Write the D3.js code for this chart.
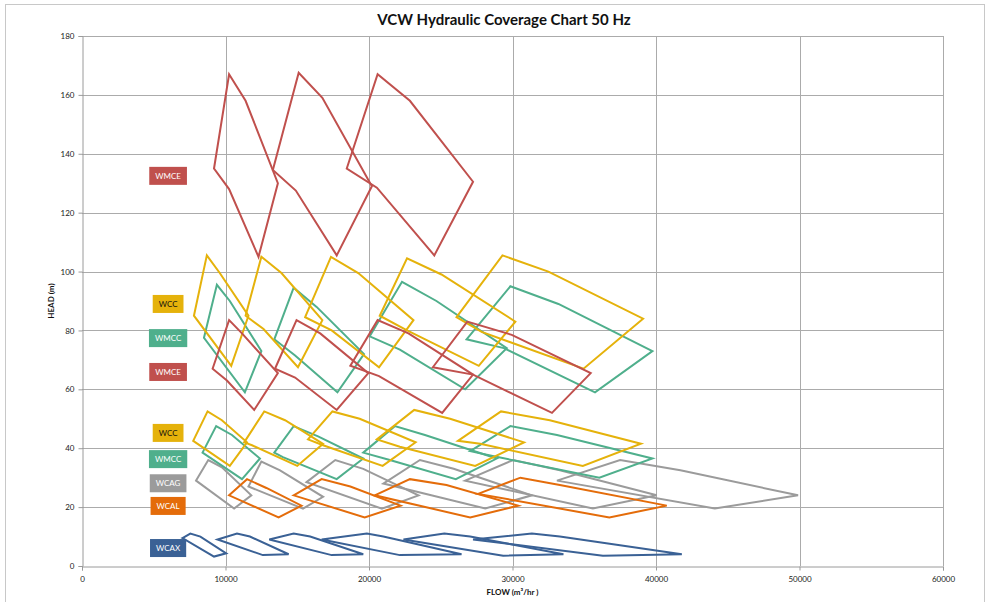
<!DOCTYPE html>
<html><head><meta charset="utf-8">
<script src="https://cdn.jsdelivr.net/npm/d3@7"></script>
<style>body{margin:0;background:#fff}svg{display:block}</style>
</head><body>
<svg id="chart" width="987" height="602"></svg>
<script>
// ---- data (flow m3/hr, head m) ----
const flowTicks = [0, 10000, 20000, 30000, 40000, 50000, 60000];
const headTicks = [0, 20, 40, 60, 80, 100, 120, 140, 160, 180];

const WMCE_HIGH = [
  [[9200,135],[10250,167],[11400,158],[13650,130],[12300,105],[10250,128]],
  [[13300,134.5],[15100,167.5],[16750,159],[20200,129],[17750,105.5],[14900,127.5]],
  [[18450,135],[20600,167],[22850,158],[27250,130.5],[24550,105.5],[20550,128.5]]
];
const WCC_HIGH = [
  [[7800,85],[8700,105.5],[9600,99.5],[11600,85],[10400,68]],
  [[11400,85],[12500,105],[13900,99.5],[16750,83.5],[15050,67.5],[12650,80.5]],
  [[15550,84.5],[17350,105],[19250,99.5],[23100,83.5],[20700,67.5],[17400,80]],
  [[20750,85],[22650,104.5],[25050,99],[30200,83],[27650,68],[22650,80]],
  [[26100,84.5],[29300,105.5],[32500,100],[39100,84],[34950,67],[27850,79.5]]
];
const WMCC_HIGH = [
  [[8500,77.5],[9400,95.5],[10300,90],[12500,73],[11350,59]],
  [[13400,77],[14750,94.5],[16350,88],[19650,72],[17800,59],[14850,71.5]],
  [[20050,78],[22300,96.5],[24700,90],[29600,74],[26700,60],[22150,73.5]],
  [[26800,77],[29850,95],[33200,89],[39750,73],[35750,59],[29400,74]]
];
const WMCE_LOW = [
  [[9100,67],[10250,83.5],[11150,79],[13650,65.5],[12000,53],[10100,63]],
  [[13450,67],[14950,83.5],[16600,79],[19950,65.5],[17750,53],[14850,64]],
  [[18700,68],[20600,83.5],[22750,79],[27250,65],[25100,52],[20700,64.5]],
  [[24450,67.5],[26850,83],[29950,78.5],[35450,65.5],[32750,52],[27250,65]]
];
const WCC_LOW = [
  [[7750,42.5],[8750,52.5],[9750,49.5],[11500,42],[10300,34]],
  [[11300,42],[12700,52.5],[14150,49.5],[16800,41.5],[15000,34],[11850,41]],
  [[15750,43],[17450,52.5],[19350,50],[23250,42],[20950,34],[16800,41]],
  [[20550,43],[23150,53],[25650,50],[30800,42],[27400,34],[22150,40.5]],
  [[26200,42.5],[29200,52.5],[32600,49.5],[38950,41.5],[34900,34],[27750,41.5]]
];
const WMCC_LOW = [
  [[8400,38.5],[9350,47.5],[10450,44.5],[12400,36.5],[11150,29.5]],
  [[13400,38.5],[14750,47.5],[16450,44],[19600,36.5],[17750,29.5],[14000,37]],
  [[19600,38.5],[21800,47.5],[23900,44.5],[28900,36.5],[26050,29.5],[21450,36]],
  [[27050,39],[29850,47.5],[33100,44.5],[39750,36.5],[36050,30],[28450,37.5]]
];
const WCAG = [
  [[7950,29],[8800,36],[9750,33.5],[11800,24],[10600,19.5]],
  [[11600,27],[12500,35.5],[13800,32.5],[16800,23.5],[15400,19.5]],
  [[15650,28.5],[17650,36],[19600,33],[23450,24],[20900,19.5]],
  [[21000,28],[23550,36],[25900,33],[31350,24],[28100,19.5]],
  [[26700,29],[30050,36],[33300,32.5],[40050,24],[35600,19.5]],
  [[33100,29],[37500,36],[41700,32.5],[49900,24],[44100,19.5]]
];
const WCAL = [
  [[10250,24],[11500,29.5],[12850,26.5],[15300,20.5],[13700,16.5]],
  [[14750,24],[16700,29.5],[18700,27],[22200,20.5],[19700,16.5]],
  [[20400,24],[22850,29.5],[25400,27.5],[30400,20.5],[27050,16.5]],
  [[27600,24.5],[30550,30],[33300,27.5],[40750,20.5],[36750,16.5]]
];
const WCAX = [
  [[7000,9.5],[7550,11],[8250,10],[10050,4.3],[9200,3.2]],
  [[9450,9],[10800,11],[11700,10],[14400,4],[12600,3.7]],
  [[13050,9],[14750,11],[15900,10],[19600,4],[17400,3.7]],
  [[16700,9],[19850,11],[21000,10],[26450,4],[22150,3.7]],
  [[22400,9],[25250,11],[27050,10],[33550,4],[29350,3.5]],
  [[27250,9],[31350,11],[33300,10],[41800,4],[36300,3.5]]
];

const labelNames = ['WMCE','WCC','WMCC','WMCE','WCC','WMCC','WCAG','WCAL','WCAX'];
const labelHeads = [132.5, 89, 77.4, 65.9, 45.2, 36.3, 28.1, 20.4, 6.1];
const labelFlow = 6000;

const colors = {
  WMCE: '#C0504D', WCC: '#E5B20B', WMCC: '#4FAF8C',
  WCAG: '#9B9B9B', WCAL: '#E46C0A', WCAX: '#3A6195'
};
const textColors = { WMCE:'#fff', WCC:'#111', WMCC:'#fff', WCAG:'#fff', WCAL:'#fff', WCAX:'#fff' };

const series = [
  {name:'WCAX', polys: WCAX},
  {name:'WCAG', polys: WCAG},
  {name:'WCAL', polys: WCAL},
  {name:'WMCC', polys: WMCC_LOW},
  {name:'WCC',  polys: WCC_LOW},
  {name:'WMCC', polys: WMCC_HIGH},
  {name:'WCC',  polys: WCC_HIGH},
  {name:'WMCE', polys: WMCE_LOW},
  {name:'WMCE', polys: WMCE_HIGH}
];

// ---- layout ----
const svg = d3.select('#chart');
const L = 82, R = 943, T = 36, B = 566;
const x = d3.scaleLinear().domain([0, 60000]).range([L, R]);
const y = d3.scaleLinear().domain([0, 180]).range([B, T]);
const font = 'Lato, "Open Sans", sans-serif';

svg.append('rect').attr('x', 5.5).attr('y', 4.5).attr('width', 979).attr('height', 620)
  .attr('fill', 'none').attr('stroke', '#C8C8C8').attr('stroke-width', 1);

// gridlines
svg.append('g').selectAll('line').data(headTicks.filter(d => d > 0)).join('line')
  .attr('x1', L).attr('x2', R).attr('y1', d => Math.round(y(d)) + 0.5).attr('y2', d => Math.round(y(d)) + 0.5)
  .attr('stroke', '#ABABAB').attr('stroke-width', 1);
svg.append('g').selectAll('line').data(flowTicks.filter(d => d > 0)).join('line')
  .attr('y1', T).attr('y2', B).attr('x1', d => Math.round(x(d)) + 0.5).attr('x2', d => Math.round(x(d)) + 0.5)
  .attr('stroke', '#ABABAB').attr('stroke-width', 1);

// axes
const xAxis = svg.append('g').attr('transform', `translate(0,${B + 0.5})`)
  .call(d3.axisBottom(x).tickValues(flowTicks).tickFormat(d3.format('d')).tickSize(4).tickPadding(6));
const yAxis = svg.append('g').attr('transform', `translate(${L + 0.5},0)`)
  .call(d3.axisLeft(y).tickValues(headTicks).tickSize(4).tickPadding(4));
[xAxis, yAxis].forEach(a => {
  a.select('.domain').attr('stroke', '#9A9A9A');
  a.selectAll('.tick line').attr('stroke', '#9A9A9A');
  a.selectAll('.tick text').attr('font-family', font).attr('font-size', 8).attr('fill', '#222');
});

// polygons
const line = d3.line().x(d => x(d[0])).y(d => y(d[1])).curve(d3.curveLinearClosed);
series.forEach(s => {
  svg.append('g').selectAll('path').data(s.polys).join('path')
    .attr('d', line).attr('fill', 'none')
    .attr('stroke', colors[s.name]).attr('stroke-width', 2).attr('stroke-linejoin', 'miter');
});

// labels
const lg = svg.append('g');
labelNames.forEach((n, i) => {
  const cx = x(labelFlow), cy = y(labelHeads[i]);
  const t = lg.append('text').attr('x', cx).attr('y', cy).attr('dy', '0.35em')
    .attr('text-anchor', 'middle').attr('font-family', font).attr('font-size', 8)
    .attr('fill', textColors[n]).text(n);
  const w = t.node().getComputedTextLength() + 12;
  lg.insert('rect', 'text').attr('x', cx - w / 2).attr('y', cy - 9).attr('width', w).attr('height', 18)
    .attr('fill', colors[n]);
});

// titles
svg.append('text').attr('x', 504).attr('y', 25).attr('text-anchor', 'middle')
  .attr('font-family', font).attr('font-weight', 'bold').attr('font-size', 15).attr('fill', '#111')
  .text('VCW Hydraulic Coverage Chart 50 Hz');
svg.append('text').attr('x', (L + R) / 2).attr('y', 595).attr('text-anchor', 'middle')
  .attr('font-family', font).attr('font-weight', 'bold').attr('font-size', 8).attr('fill', '#111')
  .text('FLOW (m³/hr )');
svg.append('text').attr('transform', `translate(54,${(T + B) / 2}) rotate(-90)`).attr('text-anchor', 'middle')
  .attr('font-family', font).attr('font-weight', 'bold').attr('font-size', 8).attr('fill', '#111')
  .text('HEAD (m)');
</script>
</body></html>
